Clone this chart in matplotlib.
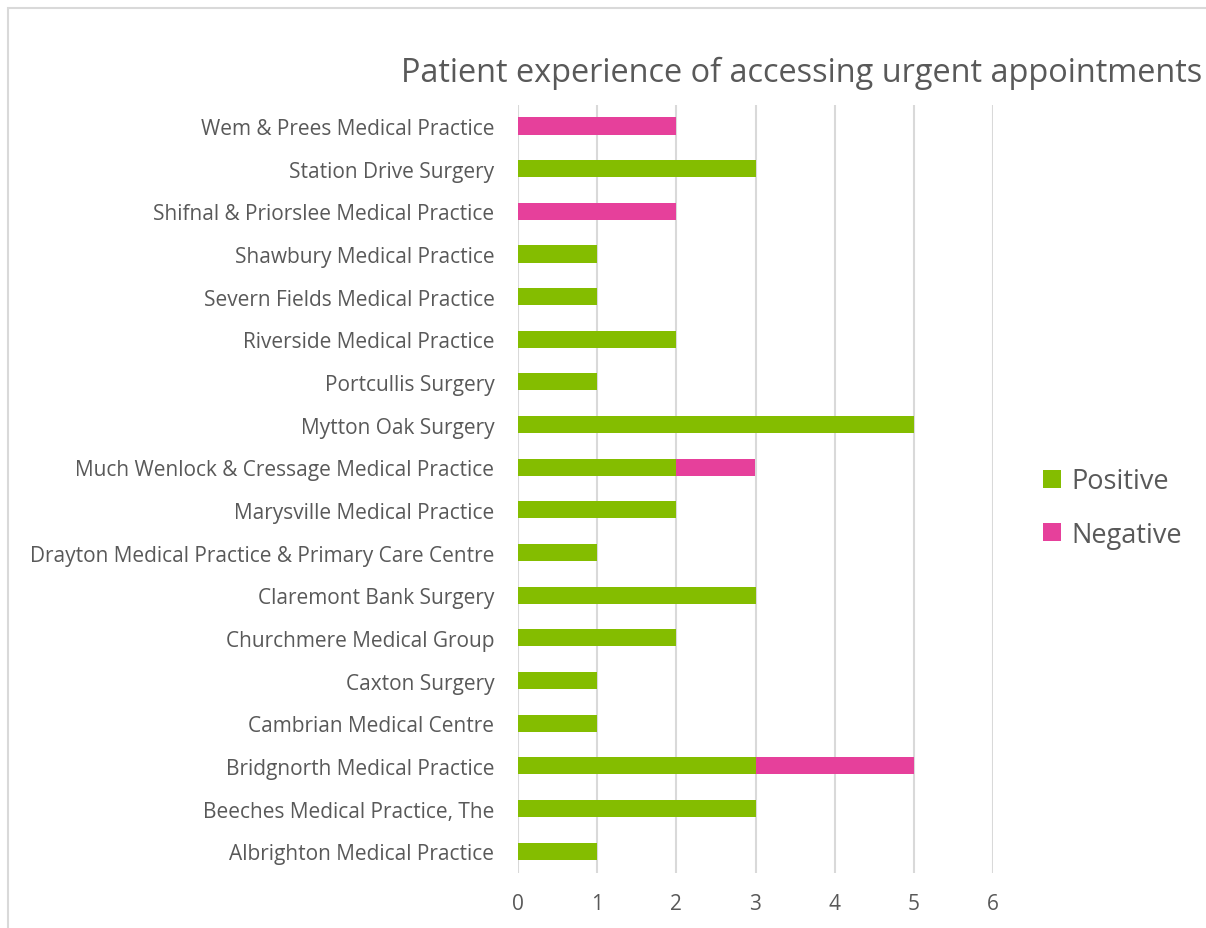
import matplotlib.pyplot as plt
from matplotlib.patches import Rectangle

practices = ['Albrighton Medical Practice', 'Beeches Medical Practice, The',
             'Bridgnorth Medical Practice', 'Cambrian Medical Centre',
             'Caxton Surgery', 'Churchmere Medical Group',
             'Claremont Bank Surgery',
             'Drayton Medical Practice & Primary Care Centre',
             'Marysville Medical Practice',
             'Much Wenlock & Cressage Medical Practice', 'Mytton Oak Surgery',
             'Portcullis Surgery', 'Riverside Medical Practice',
             'Severn Fields Medical Practice', 'Shawbury Medical Practice',
             'Shifnal & Priorslee Medical Practice', 'Station Drive Surgery',
             'Wem & Prees Medical Practice']
positive = [1, 3, 3, 1, 1, 2, 3, 1, 2, 2, 5, 1, 2, 1, 1, 0, 3, 0]
negative = [0, 0, 2, 0, 0, 0, 0, 0, 0, 1, 0, 0, 0, 0, 0, 2, 0, 2]
xticks = [0, 1, 2, 3, 4, 5, 6]

green = '#84BD00'
pink = '#E6409B'
grey = '#595959'

plt.rcParams['font.family'] = ['Open Sans', 'DejaVu Sans']

W, H = 1206, 929
fig = plt.figure(figsize=(W / 100, H / 100), dpi=100)
ax = fig.add_axes([518 / W, 1 - 873.5 / H, (993 - 518) / W, (873.5 - 105.7) / H])

# chart frame
fig.patches.append(Rectangle((8 / W, -0.05), 1.2, 1 - 9 / H + 0.05,
                             transform=fig.transFigure, fill=False,
                             edgecolor='#D9D9D9', linewidth=1.5))

y = range(len(practices))
ax.barh(y, positive, height=0.4, color=green, label='Positive', zorder=3)
ax.barh(y, negative, left=positive, height=0.4, color=pink,
        label='Negative', zorder=3)

ax.set_xlim(0, 6)
ax.set_ylim(-0.5, len(practices) - 0.5)
ax.set_xticks(xticks)
ax.set_yticks(list(y))
ax.set_yticklabels(practices)
ax.grid(axis='x', color='#D9D9D9', linewidth=1.5, zorder=0)
for s in ax.spines.values():
    s.set_visible(False)
ax.tick_params(length=0, colors=grey, labelsize=15)
ax.tick_params(axis='x', pad=15)
ax.tick_params(axis='y', pad=17)

fig.text(802 / W, 1 - 73 / H, 'Patient experience of accessing urgent appointments',
         ha='center', va='center', fontsize=23.4, color=grey)

leg = fig.legend(loc='center left', bbox_to_anchor=(1019 / W, 1 - 509 / H),
                 frameon=False, fontsize=19.5, handlelength=0.65,
                 handleheight=0.65, handletextpad=0.4, labelspacing=0.95)
for t in leg.get_texts():
    t.set_color(grey)

fig.savefig('out.png', dpi=100)
